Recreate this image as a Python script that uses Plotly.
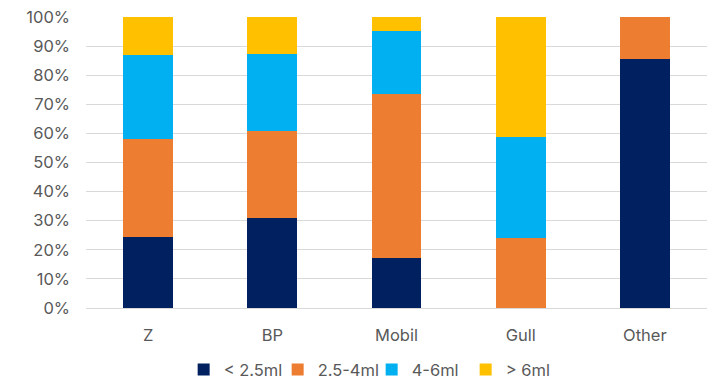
import plotly.graph_objects as go

categories = ["Z", "BP", "Mobil", "Gull", "Other"]
lt_2_5 = [24.5, 31.0, 17.1, 0.0, 85.6]
r2_5_4 = [33.7, 29.7, 56.4, 24.1, 14.4]
r4_6 = [28.6, 26.7, 21.6, 34.7, 0.0]
gt_6 = [13.2, 12.6, 4.9, 41.2, 0.0]

series_names = ["< 2.5ml", "2.5-4ml", "4-6ml", "> 6ml"]
series_values = [lt_2_5, r2_5_4, r4_6, gt_6]
colors = ["#002060", "#ED7D31", "#00B0F0", "#FFC000"]

fig = go.Figure()
for name, vals, col in zip(series_names, series_values, colors):
    fig.add_trace(go.Bar(x=categories, y=vals, name=name, marker_color=col,
                         marker_line_width=0))

font_family = "Inter, 'Open Sans', sans-serif"
fig.update_layout(
    barmode="stack",
    bargap=0.6,
    width=708, height=380,
    margin=dict(l=86, r=1, t=17, b=72, autoexpand=False),
    paper_bgcolor="white",
    plot_bgcolor="white",
    font=dict(family=font_family, size=16.5, color="#595959"),
    showlegend=True,
    legend=dict(orientation="h", x=0.46, xanchor="center",
                yref="container", y=0.027, yanchor="middle",
                font=dict(size=16.5, color="#595959"), traceorder="normal",
                itemwidth=30, entrywidth=49),
    yaxis=dict(range=[0, 100], dtick=10, ticksuffix="%", showgrid=True,
               gridcolor="#D9D9D9", gridwidth=1, zeroline=False,
               showline=False, ticklabelstandoff=15, fixedrange=True),
    xaxis=dict(showline=True, linecolor="#D9D9D9", linewidth=1,
               ticks="", ticklabelstandoff=12),
)

fig.write_html("out.html")
